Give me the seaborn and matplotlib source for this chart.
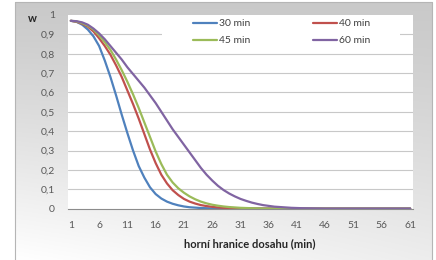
import numpy as np
import pandas as pd
import matplotlib
matplotlib.use("Agg")
import matplotlib.pyplot as plt
import seaborn as sns
from matplotlib.patches import Rectangle

# upper limit of reach (min), categories 1..61
minutes = list(range(1, 62))

w_30 = [0.97, 0.965, 0.95, 0.925, 0.89, 0.84, 0.765, 0.68, 0.585, 0.485,
        0.39, 0.30, 0.22, 0.16, 0.11, 0.075, 0.052, 0.036, 0.025, 0.017,
        0.011, 0.007, 0.005, 0.003, 0.002, 0.001, 0, 0, 0, 0,
        0, 0, 0, 0, 0, 0, 0, 0, 0, 0,
        0, 0, 0, 0, 0, 0, 0, 0, 0, 0,
        0, 0, 0, 0, 0, 0, 0, 0, 0, 0, 0]
w_40 = [0.97, 0.965, 0.955, 0.94, 0.915, 0.88, 0.84, 0.795, 0.74, 0.68,
        0.61, 0.54, 0.465, 0.385, 0.305, 0.235, 0.175, 0.13, 0.095, 0.07,
        0.05, 0.036, 0.026, 0.018, 0.013, 0.009, 0.006, 0.004, 0.003, 0.002,
        0.001, 0, 0, 0, 0, 0, 0, 0, 0, 0,
        0, 0, 0, 0, 0, 0, 0, 0, 0, 0,
        0, 0, 0, 0, 0, 0, 0, 0, 0, 0, 0]
w_45 = [0.97, 0.967, 0.958, 0.945, 0.925, 0.895, 0.86, 0.82, 0.77, 0.715,
        0.655, 0.59, 0.52, 0.445, 0.37, 0.295, 0.23, 0.175, 0.135, 0.105,
        0.082, 0.063, 0.048, 0.036, 0.027, 0.02, 0.015, 0.011, 0.008, 0.006,
        0.004, 0.003, 0.002, 0.001, 0, 0, 0, 0, 0, 0,
        0, 0, 0, 0, 0, 0, 0, 0, 0, 0,
        0, 0, 0, 0, 0, 0, 0, 0, 0, 0, 0]
w_60 = [0.97, 0.968, 0.962, 0.95, 0.93, 0.905, 0.875, 0.84, 0.805, 0.77,
        0.73, 0.695, 0.66, 0.625, 0.585, 0.545, 0.50, 0.455, 0.41, 0.37,
        0.33, 0.29, 0.25, 0.21, 0.175, 0.145, 0.118, 0.096, 0.078, 0.063,
        0.05, 0.04, 0.031, 0.024, 0.018, 0.014, 0.01, 0.008, 0.006, 0.004,
        0.003, 0.002, 0.0015, 0.001, 0.0005, 0, 0, 0, 0, 0,
        0, 0, 0, 0, 0, 0, 0, 0, 0, 0, 0]

series_names = ["30 min", "40 min", "45 min", "60 min"]
colors = ["#4F81BD", "#C0504D", "#9BBB59", "#8064A2"]
y_ticks = [0, 0.1, 0.2, 0.3, 0.4, 0.5, 0.6, 0.7, 0.8, 0.9, 1]
y_labels = ["0", "0,1", "0,2", "0,3", "0,4", "0,5", "0,6", "0,7", "0,8", "0,9", "1"]
x_labels = [1, 6, 11, 16, 21, 26, 31, 36, 41, 46, 51, 56, 61]

df = pd.DataFrame({
    "t": minutes * 4,
    "w": w_30 + w_40 + w_45 + w_60,
    "series": sum([[n] * len(minutes) for n in series_names], []),
})

sns.set_style("white")
plt.rcParams["font.family"] = ["Lato", "DejaVu Sans"]

W, H = 436, 260
fig = plt.figure(figsize=(W / 100, H / 100), dpi=100)

# chart area with gray gradient
bg = fig.add_axes([0, 0, 1, 1])
bg.set_xlim(0, W)
bg.set_ylim(H, 0)
bg.axis("off")
xx, yy = np.meshgrid(np.linspace(0, 1, 200), np.linspace(0, 1, 200))
g = 0.79 + (yy ** 1.2) * (0.21 - 0.07 * xx)
g = np.clip(g, 0, 1)
bg.imshow(np.dstack([g, g, g]), extent=[15, 432, 260, 2], aspect="auto")
bg.add_patch(Rectangle((15, 2), 417, 262, fill=False, edgecolor="#b5b5b5", lw=0.8))

# plot area
ax = fig.add_axes([68 / W, 1 - 208.6 / H, 345 / W, 193.6 / H])
ax.set_facecolor("white")
sns.lineplot(data=df, x="t", y="w", hue="series", palette=colors,
             linewidth=1.6, ax=ax, legend=False)
ax.set_xlim(0.5, 61.5)
ax.set_ylim(0, 1)

for v in y_ticks[1:-1]:
    ax.axhline(v, color="#c8c8c8", lw=0.8, zorder=0)
# white legend box covering the gridline
ax.add_patch(Rectangle(((162 - 68) / 345, (208.6 - 50) / 193.6), 238 / 345,
                       34 / 193.6, transform=ax.transAxes, facecolor="white",
                       edgecolor="none", zorder=1))

for s in ["top", "right", "left"]:
    ax.spines[s].set_visible(False)
ax.spines["bottom"].set_color("#8c8c8c")
ax.spines["bottom"].set_linewidth(0.8)

ax.set_yticks(y_ticks)
ax.set_yticklabels(y_labels)
ax.tick_params(axis="y", length=0, pad=9.5, labelsize=7.5, labelcolor="#595959")

ax.set_xticks(np.arange(0.5, 61, 5))
ax.set_xticklabels([])
ax.set_xticks(x_labels, minor=True)
ax.set_xticklabels([str(v) for v in x_labels], minor=True)
ax.tick_params(axis="x", which="major", length=3, color="#8c8c8c", width=0.8, direction="out")
ax.tick_params(axis="x", which="minor", length=0, pad=9, labelsize=7.5, labelcolor="#595959")
ax.set_xlabel("")
ax.set_ylabel("")

fig.text(250 / W, 1 - 244 / H, "horní hranice dosahu (min)", ha="center", va="center",
         fontsize=8, fontweight="bold", color="#262626")
fig.text(32 / W, 1 - 18 / H, "w", ha="center", va="center",
         fontsize=8, fontweight="bold", color="#262626")

handles = ax.get_lines()[:4]
order = [0, 2, 1, 3]
leg = fig.legend([handles[i] for i in order], [series_names[i] for i in order],
                 loc="upper left", bbox_to_anchor=(193 / W, 1 - 19 / H), ncol=2,
                 frameon=False, fontsize=7.5, handlelength=2.3, handletextpad=0.2,
                 columnspacing=6.0, labelspacing=0.75, borderpad=0, borderaxespad=0)
for t in leg.get_texts():
    t.set_color("#404040")

fig.savefig("out.png", dpi=100)
